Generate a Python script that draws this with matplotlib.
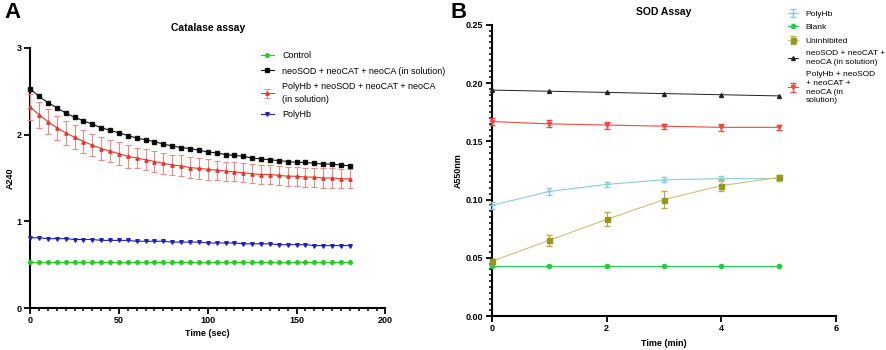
import numpy as np
import matplotlib.pyplot as plt
from matplotlib.ticker import MultipleLocator

plt.rcParams['font.family'] = ['Liberation Sans', 'DejaVu Sans']

# Panel A: catalase assay, readings every 5 s
t_sec = np.arange(0, 181, 5)
control = [0.53] * 37
neo_sol = [2.53, 2.44, 2.37, 2.31, 2.25, 2.20, 2.16, 2.12, 2.08, 2.05, 2.02, 1.99,
           1.96, 1.94, 1.92, 1.89, 1.87, 1.85, 1.84, 1.82, 1.80, 1.79, 1.77, 1.76,
           1.75, 1.73, 1.72, 1.71, 1.70, 1.69, 1.68, 1.68, 1.67, 1.66, 1.66, 1.65, 1.64]
polyhb_neo = [2.32, 2.23, 2.15, 2.08, 2.02, 1.97, 1.92, 1.88, 1.84, 1.81, 1.78, 1.75,
              1.73, 1.71, 1.69, 1.67, 1.65, 1.64, 1.62, 1.61, 1.60, 1.59, 1.58, 1.57,
              1.56, 1.55, 1.54, 1.54, 1.53, 1.52, 1.52, 1.51, 1.51, 1.50, 1.50, 1.49, 1.49]
polyhb_neo_err = [0.15, 0.15, 0.14, 0.14, 0.14, 0.14, 0.13, 0.13, 0.13, 0.13, 0.13, 0.13,
                  0.12, 0.12, 0.12, 0.12, 0.12, 0.12, 0.12, 0.12, 0.12, 0.11, 0.11, 0.11,
                  0.11, 0.11, 0.11, 0.11, 0.11, 0.11, 0.11, 0.11, 0.11, 0.11, 0.11, 0.11, 0.11]
polyhb_a = [0.81, 0.81, 0.80, 0.80, 0.80, 0.79, 0.79, 0.79, 0.78, 0.78, 0.78, 0.78,
            0.77, 0.77, 0.77, 0.77, 0.76, 0.76, 0.76, 0.76, 0.75, 0.75, 0.75, 0.75,
            0.74, 0.74, 0.74, 0.74, 0.73, 0.73, 0.73, 0.73, 0.72, 0.72, 0.72, 0.72, 0.72]

# Panel B: SOD assay, readings every minute
t_min = [0, 1, 2, 3, 4, 5]
polyhb_b = [0.095, 0.107, 0.113, 0.117, 0.118, 0.118]
polyhb_b_err = [0.003, 0.003, 0.002, 0.002, 0.002, 0.002]
blank = [0.043, 0.043, 0.043, 0.043, 0.043, 0.043]
uninhib = [0.047, 0.065, 0.083, 0.100, 0.112, 0.119]
uninhib_err = [0.002, 0.005, 0.006, 0.007, 0.005, 0.002]
neo_sol_b = [0.194, 0.193, 0.192, 0.191, 0.190, 0.189]
polyhb_neo_b = [0.167, 0.165, 0.164, 0.163, 0.162, 0.162]
polyhb_neo_b_err = [0.003, 0.003, 0.003, 0.002, 0.003, 0.002]

fig = plt.figure(figsize=(8.86, 3.5), dpi=100)
axA = fig.add_axes([0.034, 0.12, 0.401, 0.743])
axB = fig.add_axes([0.555, 0.097, 0.389, 0.832])

fs = 6.5

# ---- A
hA = []
hA.append(axA.plot(t_sec, control, '-o', color='#22cc22', ms=2.6, lw=0.8,
                   label='Control', zorder=3)[0])
hA.append(axA.plot(t_sec, neo_sol, '-s', color='#111111', mfc='black', ms=3.0, lw=0.8,
                   label='neoSOD + neoCAT + neoCA (in solution)', zorder=4)[0])
hA.append(axA.errorbar(t_sec, polyhb_neo, yerr=polyhb_neo_err, fmt='-^', color='#e03a30',
                       ms=2.4, lw=0.8, ecolor='#ee8a80', elinewidth=0.8, capsize=2,
                       capthick=0.8, label='PolyHb + neoSOD + neoCAT + neoCA\n(in solution)',
                       zorder=3))
hA.append(axA.plot(t_sec, polyhb_a, '-v', color='#2222bb', ms=2.6, lw=0.8,
                   label='PolyHb', zorder=3)[0])

axA.set_xlim(0, 200)
axA.set_ylim(0, 3)
axA.xaxis.set_major_locator(MultipleLocator(50))
axA.xaxis.set_minor_locator(MultipleLocator(5))
axA.yaxis.set_major_locator(MultipleLocator(1))
axA.set_title('Catalase assay', fontsize=7.5, fontweight='bold', pad=12)
axA.set_xlabel('Time (sec)', fontsize=fs, fontweight='bold', labelpad=3)
axA.set_ylabel('A240', fontsize=fs, fontweight='bold', labelpad=1)
legA = axA.legend(handles=hA, loc='upper left', bbox_to_anchor=(0.29, 0.865),
                  bbox_transform=fig.transFigure, frameon=False, fontsize=fs,
                  handlelength=1.5, handletextpad=0.9, labelspacing=0.75, borderaxespad=0)
for t in legA.get_texts():
    t.set_linespacing(1.45)

# ---- B
hB = []
hB.append(axB.errorbar(t_min, polyhb_b, yerr=polyhb_b_err, fmt='-+', color='#8ccadb',
                       ms=4, lw=0.8, elinewidth=0.8, capsize=2, label='PolyHb', zorder=3))
hB.append(axB.plot(t_min, blank, '-o', color='#22cc44', ms=3, lw=0.8,
                   label='Blank', zorder=3)[0])
hB.append(axB.errorbar(t_min, uninhib, yerr=uninhib_err, fmt='-s', color='#c8c07a',
                       mfc='#9a9420', mec='#9a9420', ms=3.6, lw=0.8, ecolor='#b8aa40',
                       elinewidth=0.8, capsize=2, label='Uninhibited', zorder=3))
hB.append(axB.plot(t_min, neo_sol_b, '-^', color='#222222', ms=2.8, lw=0.7,
                   label='neoSOD + neoCAT +\nneoCA (in solution)', zorder=3)[0])
hB.append(axB.errorbar(t_min, polyhb_neo_b, yerr=polyhb_neo_b_err, fmt='-v',
                       color='#ee4a40', ms=3, lw=0.8, elinewidth=0.8, capsize=2,
                       label='PolyHb + neoSOD\n+ neoCAT +\nneoCA (in\nsolution)', zorder=3))

axB.set_xlim(0, 6)
axB.set_ylim(0, 0.25)
axB.xaxis.set_major_locator(MultipleLocator(2))
axB.yaxis.set_major_locator(MultipleLocator(0.05))
axB.yaxis.set_minor_locator(MultipleLocator(0.005))
axB.yaxis.set_major_formatter(plt.FormatStrFormatter('%.2f'))
axB.set_title('SOD Assay', fontsize=7.5, fontweight='bold', pad=7)
axB.set_xlabel('Time (min)', fontsize=fs, fontweight='bold', labelpad=4)
axB.set_ylabel('A550nm', fontsize=fs, fontweight='bold', labelpad=2)
legB = axB.legend(handles=hB, loc='upper left', bbox_to_anchor=(0.886, 0.98),
                  bbox_transform=fig.transFigure, frameon=False, fontsize=6,
                  handlelength=1.2, handletextpad=0.9, labelspacing=0.65, borderaxespad=0)
for t in legB.get_texts():
    t.set_linespacing(1.35)

for ax in (axA, axB):
    for s in ('top', 'right'):
        ax.spines[s].set_visible(False)
    for s in ('left', 'bottom'):
        ax.spines[s].set_linewidth(1.5)
    ax.tick_params(which='major', width=1.3, length=4, labelsize=6.5, pad=2)
    ax.tick_params(which='minor', width=1.1, length=2.5)
    for lab in ax.get_xticklabels() + ax.get_yticklabels():
        lab.set_fontweight('bold')
    for artist in ax.get_children():
        try:
            artist.set_clip_on(False)
        except Exception:
            pass

fig.text(0.005, 0.995, 'A', fontsize=16, fontweight='bold', va='top')
fig.text(0.509, 0.995, 'B', fontsize=16, fontweight='bold', va='top')

fig.savefig('out.png', dpi=100)
